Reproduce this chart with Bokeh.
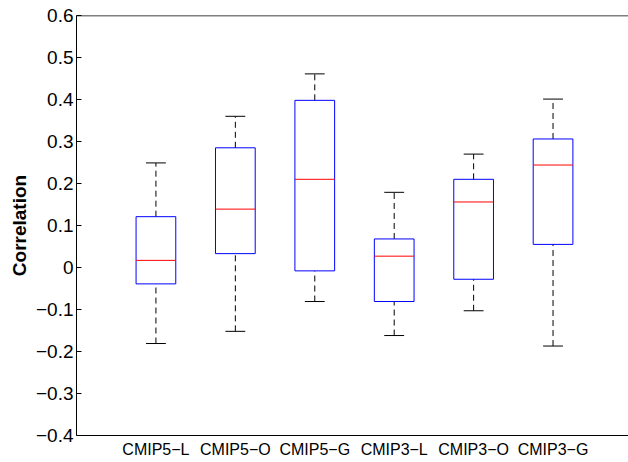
from bokeh.plotting import figure
from bokeh.models import FixedTicker, Range1d, ColumnDataSource, Span
from bokeh.embed import file_html
from bokeh.resources import INLINE

categories = ["CMIP5−L", "CMIP5−O", "CMIP5−G", "CMIP3−L", "CMIP3−O", "CMIP3−G"]
lower_whisker = [-0.181, -0.152, -0.081, -0.162, -0.103, -0.187]
q1 = [-0.039, 0.033, -0.008, -0.081, -0.028, 0.055]
median = [0.017, 0.139, 0.210, 0.027, 0.156, 0.244]
q3 = [0.121, 0.285, 0.398, 0.068, 0.210, 0.306]
upper_whisker = [0.249, 0.360, 0.461, 0.179, 0.270, 0.401]

y_ticks = [-0.4, -0.3, -0.2, -0.1, 0.0, 0.1, 0.2, 0.3, 0.4, 0.5, 0.6]
y_tick_labels = ["−0.4", "−0.3", "−0.2", "−0.1", "0", "0.1", "0.2", "0.3", "0.4", "0.5", "0.6"]

xs = list(range(1, len(categories) + 1))
box_w = 0.5
cap_w = 0.25

src = ColumnDataSource(dict(
    x=xs, lo=lower_whisker, q1=q1, med=median, q3=q3, hi=upper_whisker,
    xl=[v - box_w / 2 for v in xs], xr=[v + box_w / 2 for v in xs],
    cl=[v - cap_w / 2 for v in xs], cr=[v + cap_w / 2 for v in xs],
))

FONT = "Liberation Sans"

p = figure(width=628, height=462, output_backend="svg", toolbar_location=None,
           x_range=Range1d(0, 6.95), y_range=Range1d(-0.4, 0.6),
           min_border_left=76, min_border_right=0, min_border_top=15, min_border_bottom=27)
p.outline_line_color = None
p.grid.visible = False
p.background_fill_color = "white"

# whiskers (dashed)
p.segment(x0="x", y0="q3", x1="x", y1="hi", source=src, line_color="black",
          line_dash="6 4", line_width=1)
p.segment(x0="x", y0="lo", x1="x", y1="q1", source=src, line_color="black",
          line_dash="6 4", line_width=1)
# caps
p.segment(x0="cl", y0="hi", x1="cr", y1="hi", source=src, line_color="black", line_width=1)
p.segment(x0="cl", y0="lo", x1="cr", y1="lo", source=src, line_color="black", line_width=1)
# boxes
p.quad(left="xl", right="xr", bottom="q1", top="q3", source=src,
       fill_color=None, line_color="#0000ff", line_width=1)
# medians
p.segment(x0="xl", y0="med", x1="xr", y1="med", source=src, line_color="#ff0000", line_width=1)

# top frame line
p.add_layout(Span(location=0.6, dimension="width", line_color="black", line_width=1.5))

# y axis
ya = p.yaxis[0]
ya.ticker = FixedTicker(ticks=y_ticks)
ya.major_label_overrides = {t: l for t, l in zip(y_ticks, y_tick_labels)}
ya.major_tick_in = 5
ya.major_tick_out = 0
ya.minor_tick_line_color = None
ya.major_label_text_font = FONT
ya.major_label_text_font_size = "19px"
ya.major_label_text_color = "black"
ya.major_label_standoff = 3
ya.axis_label = "Correlation"
ya.axis_label_text_font = FONT
ya.axis_label_text_font_style = "bold"
ya.axis_label_text_font_size = "19px"
ya.axis_label_text_color = "black"
ya.axis_label_standoff = 3
ya.axis_line_color = "black"

# x axis
xa = p.xaxis[0]
xa.ticker = FixedTicker(ticks=xs)
xa.major_label_overrides = {x: c for x, c in zip(xs, categories)}
xa.major_tick_in = 0
xa.major_tick_out = 0
xa.minor_tick_line_color = None
xa.major_label_text_font = FONT
xa.major_label_text_font_size = "16px"
xa.major_label_text_color = "black"
xa.major_label_standoff = 5
xa.axis_line_color = "black"

open("out.html", "w").write(file_html(p, INLINE))
